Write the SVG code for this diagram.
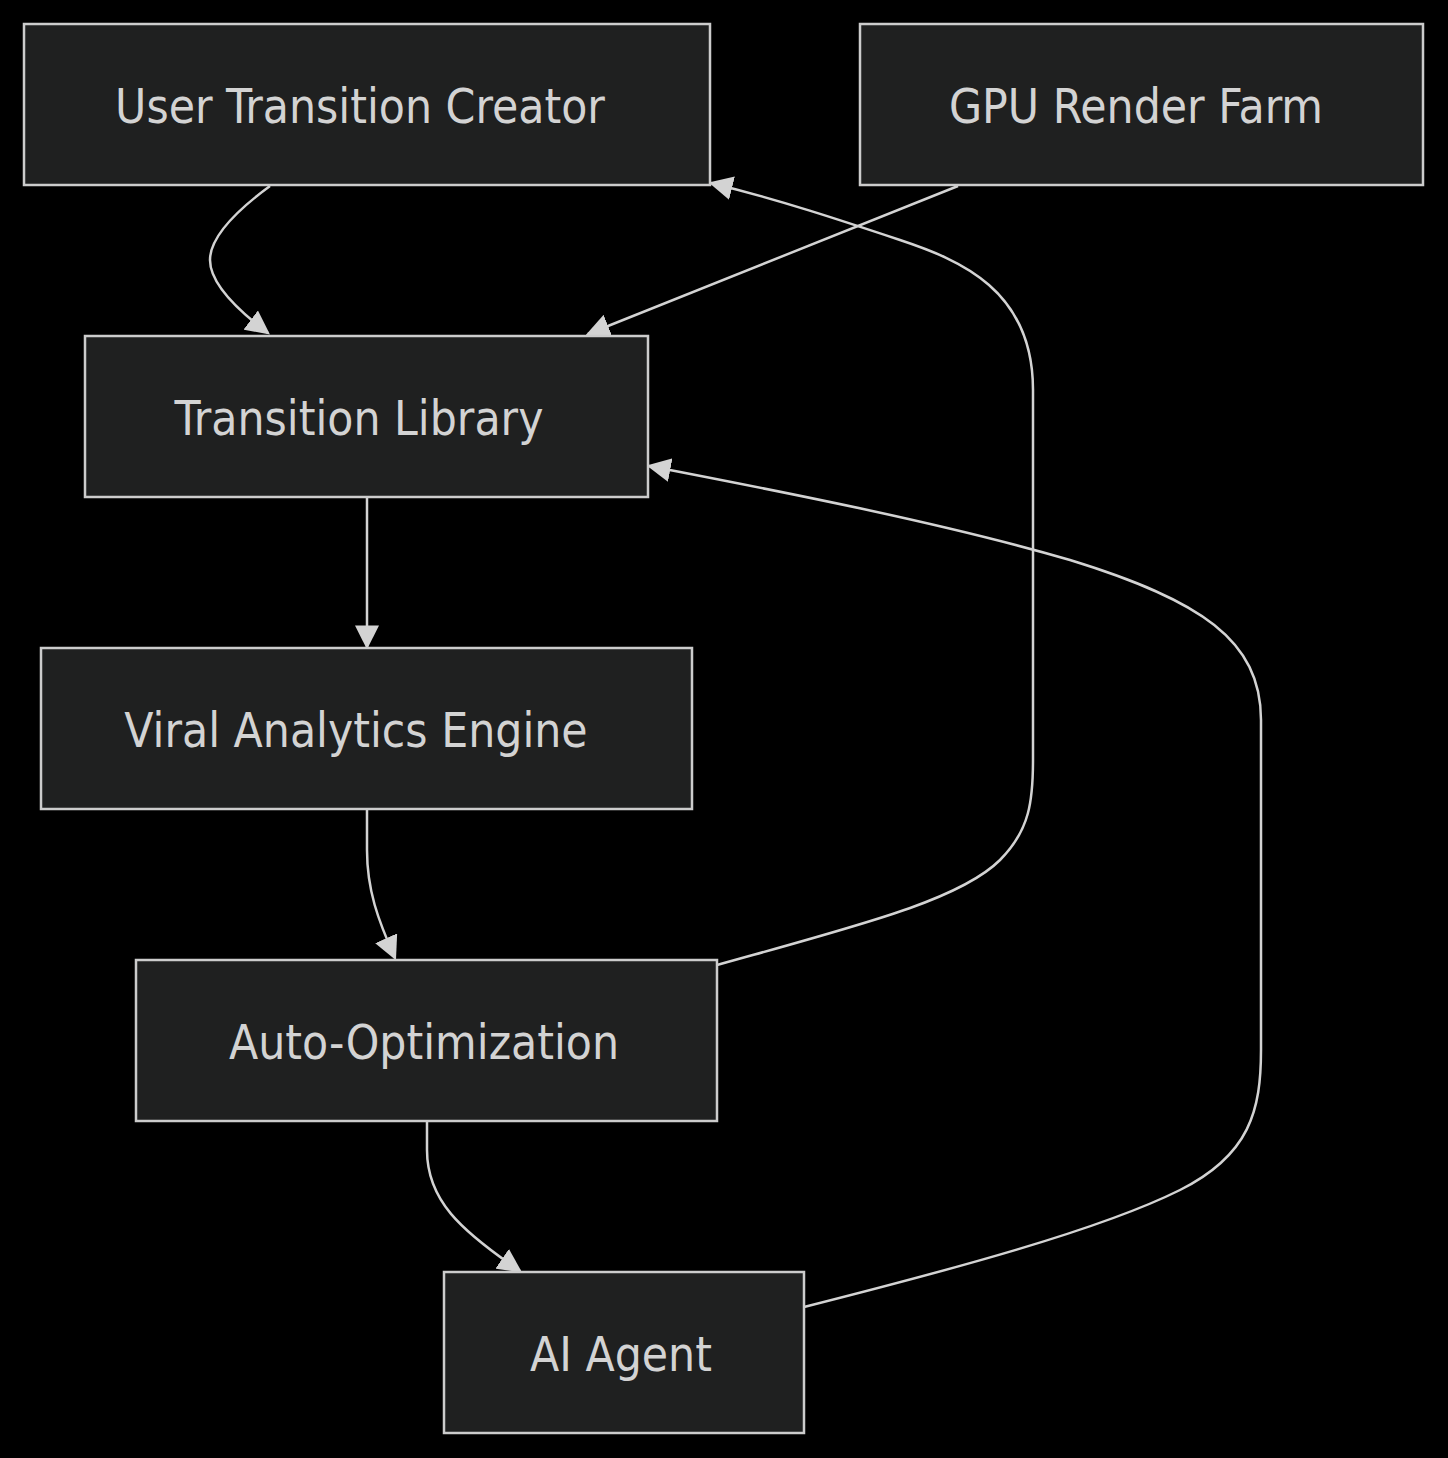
<svg xmlns="http://www.w3.org/2000/svg" width="1448" height="1458" viewBox="0 0 1448 1458">
<style>
.node rect{fill:#1f2020;stroke:#cccccc;stroke-width:2.5}
.node text{fill:#d3d3d3;font-family:"DejaVu Sans Condensed","DejaVu Sans",sans-serif;font-stretch:condensed;font-size:47.5px;text-anchor:middle;dominant-baseline:central}
.edge{fill:none;stroke:#d3d3d3;stroke-width:2.5}
</style>
<defs>
<marker id="arr" markerUnits="userSpaceOnUse" markerWidth="24" markerHeight="24" viewBox="0 0 10 10" refX="9" refY="5" orient="auto">
<path d="M0,0 L10,5 L0,10 z" fill="#d3d3d3"/>
</marker>
</defs>
<rect width="1448" height="1458" fill="#000"/>
<g id="connectors">
<path class="edge" marker-end="url(#arr)" d="M270,186 C240,208 210,235 210,260 C210,285 240,312 268,333"/>
<path class="edge" marker-end="url(#arr)" d="M958,186 L588,334"/>
<path class="edge" marker-end="url(#arr)" d="M367,497 L367,647"/>
<path class="edge" marker-end="url(#arr)" d="M367,809 L367,850 C367,890 378,920 395,958"/>
<path class="edge" marker-end="url(#arr)" d="M717,965 C860,925 960,900 1000,860 C1030,830 1033,800 1033,760 L1033,390 C1033,290 960,260 900,240 C840,220 780,200 711,183"/>
<path class="edge" marker-end="url(#arr)" d="M427,1121 L427,1150 C427,1200 460,1230 520,1271"/>
<path class="edge" marker-end="url(#arr)" d="M804,1307 C950,1270 1100,1230 1180,1190 C1250,1155 1261,1110 1261,1050 L1261,720 C1261,640 1200,600 1070,560 C950,525 800,495 649,466"/>
</g>
<g id="node-utc" class="node"><rect x="24" y="24" width="686" height="161"/><text x="360" y="106">User Transition Creator</text></g>
<g id="node-gpu" class="node"><rect x="860" y="24" width="563" height="161"/><text x="1136" y="106">GPU Render Farm</text></g>
<g id="node-tl" class="node"><rect x="85" y="336" width="563" height="161"/><text x="359" y="418">Transition Library</text></g>
<g id="node-vae" class="node"><rect x="41" y="648" width="651" height="161"/><text x="356" y="730">Viral Analytics Engine</text></g>
<g id="node-ao" class="node"><rect x="136" y="960" width="581" height="161"/><text x="424" y="1042">Auto-Optimization</text></g>
<g id="node-ai" class="node"><rect x="444" y="1272" width="360" height="161"/><text x="621" y="1354">AI Agent</text></g>
</svg>
